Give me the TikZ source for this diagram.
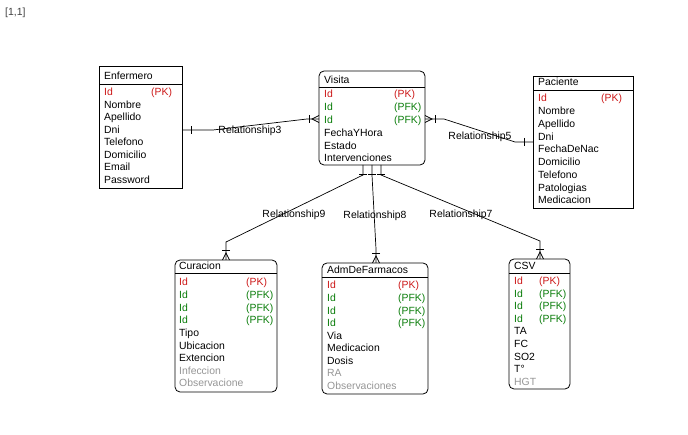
\documentclass[tikz,border=0pt]{standalone}
\usepackage{fontspec}
\setmainfont{Liberation Sans}
\usetikzlibrary{calc}
\definecolor{pkred}{RGB}{205,25,25}
\definecolor{fkgreen}{RGB}{10,125,10}
\definecolor{optgray}{RGB}{150,150,150}
\tikzset{
  every picture/.style={x=1pt,y=-1pt},
  tbl/.style={draw,line width=0.8pt,inner sep=0pt,outer sep=0pt,anchor=north west},
  rtbl/.style={tbl,rounded corners=5pt},
  fld/.style={inner sep=0pt,anchor=base west,font=\fontsize{10.4}{12}\selectfont},
  pk/.style={fld,text=pkred},
  fk/.style={fld,text=fkgreen},
  opt/.style={fld,text=optgray},
  rel/.style={inner sep=0pt,font=\fontsize{10.4}{12}\selectfont},
  conn/.style={line width=0.7pt},
  onemark/.pic={\draw[conn] (-9,-4) -- (-9,4);},
  manymark/.pic={\draw[conn] (-10,-4) -- (-10,4);
                 \draw[conn] (0,-3.5) -- (-7,0) -- (0,3.5);},
}
\begin{document}
\begin{tikzpicture}
\useasboundingbox[fill=white] (0,0) rectangle (688,435);

\node[fld,text=black!75] (grid) at (5,16) {[1,1]};

% ---------- Enfermero ----------
\node[tbl,minimum width=83pt,minimum height=122pt] (enf) at (99,66) {};
\draw[line width=0.8pt] (enf.west |- 0,84) -- (enf.east |- 0,84);
\node[fld] (enf-t) at (104,80) {Enfermero};
\node[pk] (enf-id) at (104,96) {Id};
\node[pk] (enf-pk) at (151,96) {(PK)};
\foreach \t [count=\i] in {Nombre,Apellido,Dni,Telefono,Domicilio,Email,Password}
  \node[fld] (enf-\i) at (104,96+12.45*\i) {\t};

% ---------- Visita ----------
\node[rtbl,minimum width=106pt,minimum height=94pt] (vis) at (319,71) {};
\draw[line width=0.8pt] (vis.west |- 0,87) -- (vis.east |- 0,87);
\node[fld] (vis-t) at (324,84) {Visita};
\node[pk] (vis-id) at (324,98) {Id};
\node[pk] (vis-pk) at (394,98) {(PK)};
\node[fk] (vis-id2) at (324,111) {Id};
\node[fk] (vis-fk2) at (394,111) {(PFK)};
\node[fk] (vis-id3) at (324,123.5) {Id};
\node[fk] (vis-fk3) at (394,123.5) {(PFK)};
\node[fld] (vis-4) at (324,137) {FechaYHora};
\node[fld] (vis-5) at (324,149.5) {Estado};
\node[fld] (vis-6) at (324,162) {Intervenciones};

% ---------- Paciente ----------
\node[tbl,minimum width=100pt,minimum height=132pt] (pac) at (533,76) {};
\draw[line width=0.8pt] (pac.west |- 0,90) -- (pac.east |- 0,90);
\node[fld] (pac-t) at (538,86) {Paciente};
\node[pk] (pac-id) at (538,102) {Id};
\node[pk] (pac-pk) at (601,102) {(PK)};
\foreach \t [count=\i] in {Nombre,Apellido,Dni,FechaDeNac,Domicilio,Telefono,Patologias,Medicacion}
  \node[fld] (pac-\i) at (538,102+12.75*\i) {\t};

% ---------- Curacion ----------
\node[rtbl,minimum width=102pt,minimum height=132pt] (cur) at (175,260) {};
\draw[line width=0.8pt] (cur.west |- 0,273) -- (cur.east |- 0,273);
\node[fld] (cur-t) at (179,270) {Curacion};
\node[pk] (cur-id) at (179,286) {Id};
\node[pk] (cur-pk) at (246,286) {(PK)};
\foreach \i in {1,2,3}{
  \node[fk] (cur-id\i) at (179,286+12.6*\i) {Id};
  \node[fk] (cur-fk\i) at (246,286+12.6*\i) {(PFK)};
}
\node[fld] (cur-4) at (179,337) {Tipo};
\node[fld] (cur-5) at (179,350) {Ubicacion};
\node[fld] (cur-6) at (179,362) {Extencion};
\node[opt] (cur-7) at (179,374.5) {Infeccion};
\node[opt] (cur-8) at (179,387) {Observacione};

% ---------- AdmDeFarmacos ----------
\node[rtbl,minimum width=106pt,minimum height=131pt] (adm) at (322,263) {};
\draw[line width=0.8pt] (adm.west |- 0,277) -- (adm.east |- 0,277);
\node[fld] (adm-t) at (327,274) {AdmDeFarmacos};
\node[pk] (adm-id) at (327,289) {Id};
\node[pk] (adm-pk) at (398,289) {(PK)};
\foreach \i in {1,2,3}{
  \node[fk] (adm-id\i) at (327,289+12.6*\i) {Id};
  \node[fk] (adm-fk\i) at (398,289+12.6*\i) {(PFK)};
}
\node[fld] (adm-4) at (327,339.5) {Via};
\node[fld] (adm-5) at (327,352) {Medicacion};
\node[fld] (adm-6) at (327,364.5) {Dosis};
\node[opt] (adm-7) at (327,377) {RA};
\node[opt] (adm-8) at (327,390) {Observaciones};

% ---------- CSV ----------
\node[rtbl,minimum width=61pt,minimum height=130pt] (csv) at (509,259) {};
\draw[line width=0.8pt] (csv.west |- 0,273) -- (csv.east |- 0,273);
\node[fld] (csv-t) at (514,269.5) {CSV};
\node[pk] (csv-id) at (514,285) {Id};
\node[pk] (csv-pk) at (539,285) {(PK)};
\foreach \i in {1,2,3}{
  \node[fk] (csv-id\i) at (514,285+12.5*\i) {Id};
  \node[fk] (csv-fk\i) at (539,285+12.5*\i) {(PFK)};
}
\node[fld] (csv-4) at (514,335) {TA};
\node[fld] (csv-5) at (514,348) {FC};
\node[fld] (csv-6) at (514,361) {SO2};
\node[fld] (csv-7) at (514,373) {T°};
\node[opt] (csv-8) at (514,386) {HGT};

% ---------- Relationship ends ----------
\coordinate (r3a) at (enf.east |- 0,130);
\coordinate (r3b) at (vis.west |- 0,119);
\coordinate (r5a) at (vis.east |- 0,119);
\coordinate (r5b) at (pac.west |- 0,142);
\coordinate (r9a) at (vis.south -| 363,0);
\coordinate (r9b) at (cur.north -| 226,0);
\coordinate (r8a) at (vis.south -| 372,0);
\coordinate (r8b) at (adm.north -| 376,0);
\coordinate (r7a) at (vis.south -| 381,0);
\coordinate (r7b) at (csv.north -| 540,0);

% ---------- Relationship lines ----------
\draw[conn] (r3a) -- ++(31,0) -- ($(r3b)+(-12,0)$) -- (r3b);
\draw[conn] (r5a) -- ++(19,0) -- ($(r5b)+(-18,0)$) -- (r5b);
\draw[conn] (r9a) -- ++(0,10) -- ($(r9b)+(0,-18)$) -- (r9b);
\draw[conn] (r8a) -- ++(0,10) -- ($(r8b)+(0,-14)$) -- (r8b);
\draw[conn] (r7a) -- ++(0,10) -- ($(r7b)+(0,-18)$) -- (r7b);

% ---------- Cardinality marks ----------
\pic[rotate=180] at (r3a) {onemark};
\pic at (r3b) {manymark};
\pic[rotate=180] at (r5a) {manymark};
\pic at (r5b) {onemark};
\pic[rotate=90] at (r9a) {onemark};
\pic[rotate=90] at (r8a) {onemark};
\pic[rotate=90] at (r7a) {onemark};
\pic[rotate=-90] at (r9b) {manymark};
\pic[rotate=-90] at (r8b) {manymark};
\pic[rotate=-90] at (r7b) {manymark};

% ---------- Relationship labels ----------
\node[rel] (l3) at (250,131) {Relationship3};
\node[rel] (l5) at (480,137) {Relationship5};
\node[rel] (l9) at (294,215) {Relationship9};
\node[rel] (l8) at (375,216) {Relationship8};
\node[rel] (l7) at (461,215) {Relationship7};
\end{tikzpicture}
\end{document}
